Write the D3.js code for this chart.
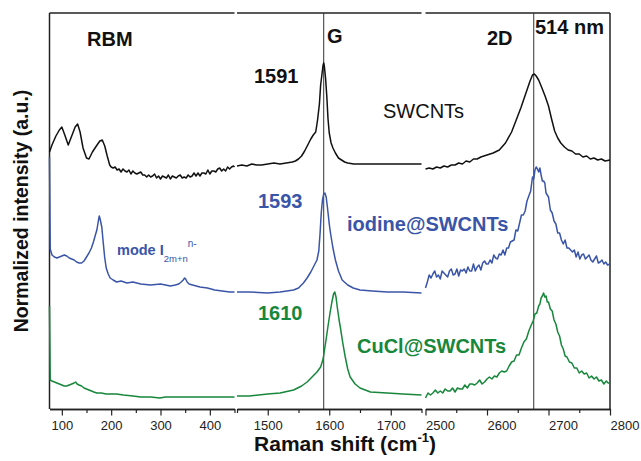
<!DOCTYPE html>
<html>
<head>
<meta charset="utf-8">
<script src="https://cdn.jsdelivr.net/npm/d3@7"></script>
<style>
  body { margin: 0; background: #fff; }
  text { font-family: Arial, "Liberation Sans", sans-serif; }
</style>
</head>
<body>
<div id="chart"></div>
<script>
// Raman spectra, broken x axis: RBM | G | 2D regions
// values are [Raman shift (cm-1), normalized intensity (a.u., stacked)]

const swcntRbm = [[75,257],[80,264],[88,273],[95,279],[100,282],[106,274],[113,264],[120,273],[127,282],[132,285],[137,277],[143,261],[150,251],[155,250],[162,257],[170,263],[177,268],[182,269],[187,263],[192,253],[197,244],[200,242],[204,241],[208,242],[212,239],[216,240],[220,237],[224,240],[228,238],[232,237],[236,239],[240,235],[244,238],[248,236],[252,235],[256,236],[260,237],[264,234],[268,234],[272,232],[276,234],[280,232],[284,233],[288,235],[292,231],[296,233],[300,230],[304,233],[308,232],[312,231],[316,234],[320,230],[324,233],[328,232],[332,231],[336,233],[340,234],[344,231],[348,232],[352,231],[356,234],[360,232],[364,233],[368,236],[372,233],[376,236],[380,233],[384,236],[388,236],[392,235],[396,239],[400,235],[404,238],[408,238],[412,237],[416,240],[420,241],[424,238],[428,240],[432,238],[436,242],[440,240],[444,242],[448,243],[450,242]];
const swcntG = [[1450,243],[1458,244],[1466,243],[1474,245],[1482,244],[1490,244],[1500,245],[1510,246],[1520,245],[1530,246],[1540,247],[1545,248],[1550,250],[1555,253],[1560,258],[1565,264],[1570,270],[1574,274],[1578,277],[1581,289],[1584,305],[1586,324],[1588,334],[1590,344],[1591,346],[1592,343],[1594,331],[1596,313],[1598,290],[1600,276],[1603,266],[1606,261],[1610,256],[1615,251],[1620,249],[1625,247],[1630,246],[1640,245],[1660,245],[1680,245],[1700,245],[1720,245],[1750,245]];
const swcnt2D = [[2500,240],[2506,241],[2512,240],[2518,242],[2524,241],[2530,243],[2536,242],[2542,244],[2548,244],[2554,246],[2560,245],[2566,248],[2572,247],[2578,250],[2584,250],[2590,252],[2600,254],[2610,256],[2620,259],[2630,266],[2640,277],[2645,285],[2650,293],[2655,301],[2660,310],[2665,319],[2670,328],[2674,334],[2677,335],[2680,333],[2684,329],[2690,320],[2695,312],[2700,303],[2705,290],[2710,278],[2715,271],[2720,266],[2726,262],[2732,259],[2738,258],[2744,255],[2750,255],[2756,252],[2762,253],[2768,250],[2774,251],[2780,249],[2786,250],[2792,248],[2800,249]];

const iodineRbm = [[75,252],[76.5,160],[80,154],[85,152],[90,151],[95,152],[100,153],[105,154],[110,153],[115,151],[120,150],[125,149],[130,147],[135,146],[140,146],[145,148],[150,152],[155,156],[160,161],[164,167],[168,174],[171,179],[173,185],[175,191],[176,193],[178,189],[181,182],[184,166],[187,151],[190,141],[194,135],[198,131],[204,129],[211,127],[220,128],[232,126],[244,127],[260,125],[280,124],[300,125],[320,123],[330,124],[337,125],[342,127],[346,129],[349,131],[351,130],[354,127],[358,125],[365,124],[380,122],[395,121],[410,119],[425,118],[440,117],[450,117]];
const iodineG = [[1450,117],[1470,117],[1500,116],[1520,117],[1542,119],[1550,121],[1558,126],[1564,131],[1570,137],[1575,143],[1580,149],[1583,158],[1585,175],[1587,196],[1589,209],[1591,215],[1593,216],[1595,212],[1597,202],[1600,185],[1602,176],[1606,161],[1610,149],[1615,138],[1621,129],[1630,124],[1639,121],[1650,119],[1670,118],[1694,117],[1720,117],[1750,116]];
const iodine2D = [[2500,121],[2503,127],[2506,134],[2509,131],[2512,135],[2515,138],[2518,132],[2521,134],[2524,130],[2527,138],[2530,136],[2533,134],[2536,132],[2539,138],[2542,140],[2545,134],[2548,135],[2551,140],[2554,133],[2557,139],[2560,138],[2563,140],[2566,136],[2569,142],[2572,138],[2575,138],[2578,145],[2581,138],[2584,142],[2587,144],[2590,139],[2593,146],[2596,148],[2599,145],[2602,145],[2605,149],[2608,146],[2611,154],[2614,151],[2617,150],[2620,155],[2623,154],[2626,159],[2629,154],[2632,161],[2635,161],[2638,167],[2641,168],[2644,169],[2647,179],[2650,178],[2653,186],[2656,194],[2659,194],[2662,198],[2665,208],[2668,213],[2671,218],[2674,232],[2676,230],[2678,239],[2680,242],[2682,240],[2684,237],[2686,241],[2688,234],[2690,228],[2692,228],[2694,226],[2696,216],[2698,214],[2700,212],[2703,199],[2706,196],[2709,188],[2712,185],[2715,176],[2718,176],[2721,169],[2724,165],[2727,169],[2730,161],[2733,161],[2736,159],[2739,157],[2742,159],[2745,152],[2748,157],[2751,150],[2754,154],[2757,155],[2760,150],[2763,152],[2766,154],[2769,149],[2772,147],[2775,150],[2778,153],[2781,146],[2784,147],[2787,149],[2790,145],[2793,147],[2796,144],[2800,145]];

const cuclRbm = [[75,103],[76.5,29],[80,28],[85,27],[90,26],[95,25],[100,24],[105,23],[110,23],[115,24],[120,25],[125,26],[128,27],[131,25],[135,24],[140,23],[145,21],[150,20],[155,19],[160,18],[165,17],[171,16],[180,16],[190,15],[200,15],[211,15],[225,14],[244,13],[260,12],[280,12],[299,11],[310,12],[320,12],[333,12],[350,12],[365,12],[380,12],[400,12],[420,12],[446,12],[450,12]];
const cuclG = [[1450,13],[1470,13],[1500,15],[1520,16],[1542,19],[1555,23],[1564,27],[1572,32],[1580,37],[1586,42],[1590,50],[1592,58],[1595,70],[1598,83],[1601,95],[1604,106],[1607,115],[1609,117],[1611,112],[1613,102],[1616,89],[1618,82],[1622,66],[1626,52],[1630,40],[1634,32],[1642,25],[1650,21],[1667,17],[1694,16],[1720,15],[1750,14]];
const cucl2D = [[2500,11],[2504,16],[2508,14],[2512,16],[2516,19],[2520,16],[2524,18],[2528,16],[2532,20],[2536,18],[2540,18],[2544,21],[2548,17],[2552,21],[2556,20],[2560,20],[2564,24],[2568,21],[2572,25],[2576,25],[2580,24],[2584,26],[2588,29],[2592,25],[2596,27],[2600,30],[2604,32],[2608,30],[2612,33],[2616,32],[2620,36],[2624,38],[2628,37],[2632,38],[2636,43],[2640,47],[2644,48],[2648,54],[2652,54],[2656,61],[2660,67],[2664,70],[2668,78],[2672,84],[2675,88],[2678,95],[2681,96],[2684,103],[2686,105],[2688,111],[2690,113],[2692,116],[2694,112],[2696,113],[2698,107],[2700,107],[2703,100],[2706,98],[2709,89],[2712,85],[2715,77],[2718,73],[2721,64],[2724,60],[2727,53],[2730,52],[2734,47],[2738,46],[2742,41],[2746,41],[2750,36],[2754,38],[2758,35],[2762,36],[2766,31],[2770,33],[2774,30],[2778,32],[2782,28],[2786,29],[2790,25],[2794,28],[2797,26],[2800,26]];

// axis pieces
const panelDomains = [[75, 450], [1450, 1750], [2500, 2800]];
const majorTicks = [[100, 200, 300, 400], [1500, 1600, 1700], [2500, 2600, 2700, 2800]];
const minorTicks = [[150, 250, 350, 450], [1450, 1550, 1650, 1750], [2550, 2650, 2750]];
const markerLines = [1591, 2676];   // G and 2D reference lines

const colors = { swcnt: "#111111", iodine: "#3a55a8", cucl: "#17873b" };

const width = 641, height = 461;
const plotTop = 13, plotBottom = 409, plotLeft = 49.5, plotRight = 610;
const panelRanges = [[plotLeft, 234.5], [237, 421.5], [425.5, plotRight]];

const svg = d3.select("#chart").append("svg")
  .attr("width", width).attr("height", height);

const y = d3.scaleLinear().domain([0, 396]).range([plotBottom, plotTop]);
const xs = panelDomains.map((d, i) => d3.scaleLinear().domain(d).range(panelRanges[i]));

// frame
svg.append("line").attr("x1", plotLeft).attr("x2", plotLeft).attr("y1", plotTop).attr("y2", plotBottom)
  .attr("stroke", "#222").attr("stroke-width", 1.5);
svg.append("line").attr("x1", plotRight).attr("x2", plotRight).attr("y1", plotTop).attr("y2", plotBottom)
  .attr("stroke", "#222").attr("stroke-width", 1.5);
xs.forEach(x => {
  svg.append("line").attr("x1", x.range()[0]).attr("x2", x.range()[1])
    .attr("y1", plotTop).attr("y2", plotTop).attr("stroke", "#222").attr("stroke-width", 1.5);
});

// reference lines at G and 2D
svg.append("line").attr("x1", xs[1](markerLines[0])).attr("x2", xs[1](markerLines[0]))
  .attr("y1", plotTop).attr("y2", plotBottom).attr("stroke", "#333").attr("stroke-width", 1);
svg.append("line").attr("x1", xs[2](markerLines[1])).attr("x2", xs[2](markerLines[1]))
  .attr("y1", plotTop).attr("y2", plotBottom).attr("stroke", "#333").attr("stroke-width", 1);

// bottom axes, one per panel
xs.forEach((x, i) => {
  const g = svg.append("g").attr("transform", `translate(0,${plotBottom})`);
  g.call(d3.axisBottom(x).tickValues(minorTicks[i]).tickSize(4).tickSizeOuter(0).tickFormat(""));
  const gm = svg.append("g").attr("transform", `translate(0,${plotBottom})`);
  gm.call(d3.axisBottom(x).tickValues(majorTicks[i]).tickSize(6.5).tickSizeOuter(0)
    .tickPadding(5).tickFormat(d3.format("d")));
  [g, gm].forEach(a => {
    a.select(".domain").attr("stroke", "#222").attr("stroke-width", 1.5);
    a.selectAll(".tick line").attr("stroke", "#222").attr("stroke-width", 1.2);
  });
  gm.selectAll(".tick text").attr("font-size", 13).attr("fill", "#222")
    .attr("font-family", "Arial, 'Liberation Sans', sans-serif");
  if (i === 2) gm.selectAll(".tick text").attr("text-anchor", "start");
});

// spectra
const series = [
  { parts: [swcntRbm, swcntG, swcnt2D], color: colors.swcnt },
  { parts: [iodineRbm, iodineG, iodine2D], color: colors.iodine },
  { parts: [cuclRbm, cuclG, cucl2D], color: colors.cucl }
];
series.forEach(s => {
  s.parts.forEach((data, i) => {
    const line = d3.line().x(d => xs[i](d[0])).y(d => y(d[1]));
    svg.append("path").datum(data).attr("d", line)
      .attr("fill", "none").attr("stroke", s.color).attr("stroke-width", 1.5)
      .attr("stroke-linejoin", "round");
  });
});

// labels
function label(x, yy, txt, opts) {
  return svg.append("text").attr("x", x).attr("y", yy).text(txt)
    .attr("font-size", opts.size || 20)
    .attr("font-weight", opts.weight || "bold")
    .attr("fill", opts.color || "#111");
}
label(87, 46, "RBM", {});
label(327, 43, "G", {});
label(487, 45, "2D", {});
label(535, 34, "514 nm", {});
label(254, 83, "1591", {});
label(383, 118, "SWCNTs", { weight: "normal" });
label(258, 208, "1593", { color: colors.iodine });
label(347, 231, "iodine@SWCNTs", { color: colors.iodine });
label(258, 320, "1610", { color: colors.cucl });
label(357, 353, "CuCl@SWCNTs", { color: colors.cucl });

const mode = svg.append("text").attr("x", 117).attr("y", 255)
  .attr("fill", colors.iodine).attr("font-weight", "bold").attr("font-size", 14.5);
mode.append("tspan").text("mode I");
mode.append("tspan").attr("dy", 7).attr("font-size", 9.5).attr("font-weight", "normal").text("2m+n");
mode.append("tspan").attr("dy", -15).attr("font-size", 10).attr("font-weight", "normal").text("n-");

// axis titles
const xt = svg.append("text").attr("x", 345).attr("y", 451).attr("text-anchor", "middle")
  .attr("font-size", 21).attr("font-weight", "bold").attr("fill", "#111");
xt.append("tspan").text("Raman shift (cm");
xt.append("tspan").attr("dy", -9).attr("font-size", 13).text("-1");
xt.append("tspan").attr("dy", 9).text(")");

svg.append("text").attr("transform", "translate(28,211) rotate(-90)")
  .attr("text-anchor", "middle").attr("font-size", 19.5).attr("font-weight", "bold")
  .attr("fill", "#111").text("Normalized intensity (a.u.)");
</script>
</body>
</html>
